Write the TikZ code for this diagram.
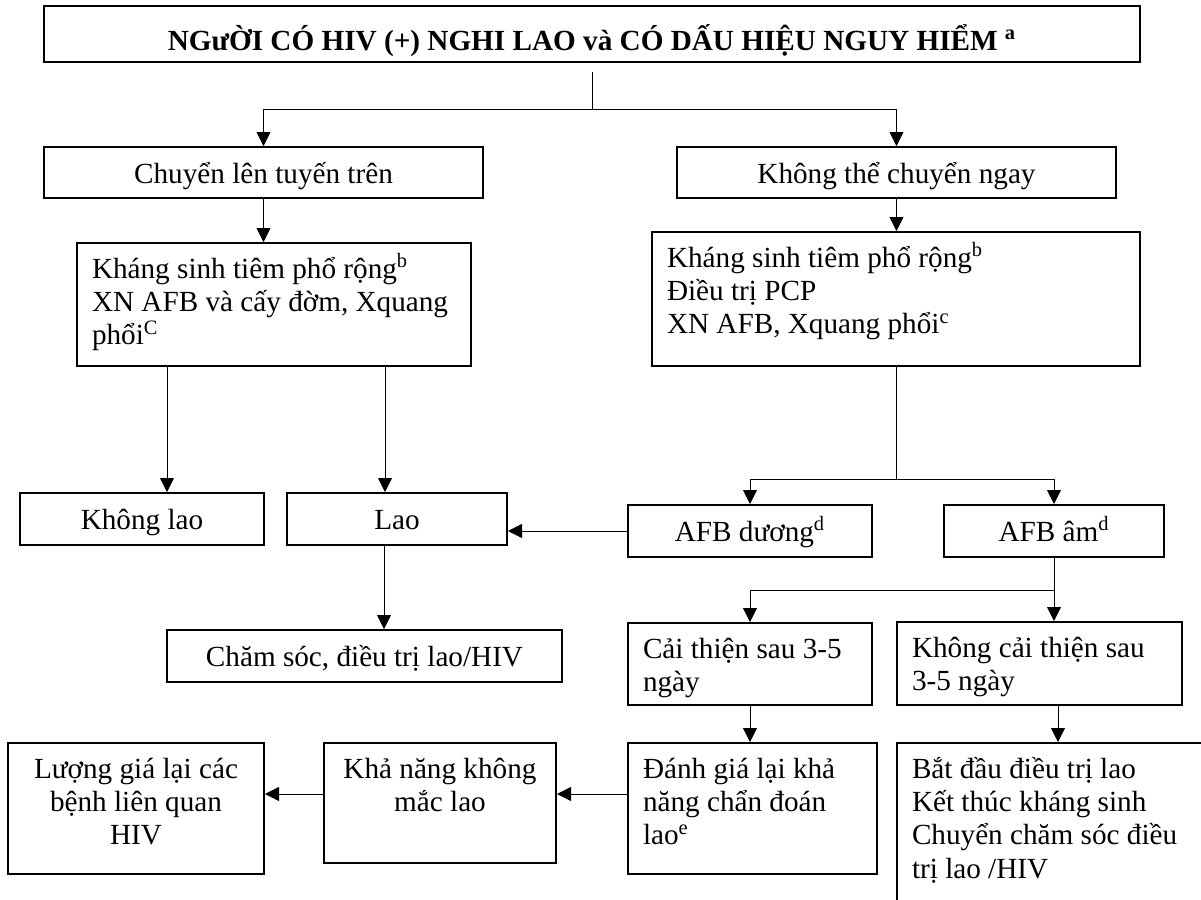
\documentclass[tikz,border=0pt]{standalone}
\usepackage{fontspec}
\setmainfont{Liberation Serif}
\usetikzlibrary{positioning,arrows.meta}
\tikzset{
    x=0.5pt,
    y=-0.5pt,
    line width=1pt,
    >={Triangle[length=7pt,width=7pt]},
    block/.style = {
        draw,
        shape=rectangle,
        line width=1pt,
        inner xsep=0pt,
        inner ysep=0pt,
        font=\fontsize{14.6}{16.7}\selectfont
    },
    single/.style = {
        block,
        text height=18pt,
        text depth=8pt
    },
    multi/.style = {
        block,
        inner xsep=7.5pt,
        text height=17.5pt
    },
    heading/.style = {
        block,
        text height=22pt,
        text depth=6pt,
        font=\fontsize{14.6}{17}\selectfont\bfseries
    },
}

\begin{document}
\begin{tikzpicture}
                \useasboundingbox (0,0) rectangle (1201,900);
                \clip (0,0) rectangle (1201,900);

                \node[heading, minimum width=548pt] (title) at (592,34) {NGưỜI CÓ HIV (+) NGHI LAO và CÓ DẤU HIỆU NGUY HIỂM \textsuperscript{a}};
                \node[single, minimum width=219.5pt, text depth=7.5pt] (chuyen) at (263.5,172.5) {Chuyển lên tuyến trên};
                \node[single, minimum width=219.5pt, text depth=7.5pt] (khongthe) at (896.5,172.5) {Không thể chuyển ngay};
                \node[multi, text depth=44pt] (khangL) at (274,304.5) {\parbox[t]{182pt}{Kháng sinh tiêm phổ rộng\textsuperscript{b}\\XN AFB và cấy đờm, Xquang\\phổi\textsuperscript{C}}};
                \node[multi, text depth=49.5pt] (khangR) at (896,299) {\parbox[t]{229pt}{Kháng sinh tiêm phổ rộng\textsuperscript{b}\\Điều trị PCP\\XN AFB, Xquang phổi\textsuperscript{c}}};
                \node[single, minimum width=122pt] (khonglao) at (142,519) {Không lao};
                \node[single, minimum width=110pt] (lao) at (397,519) {Lao};
                \node[single, minimum width=122pt] (afbduong) at (750,531) {AFB dương\textsuperscript{d}};
                \node[single, minimum width=110pt] (afbam) at (1054,531) {AFB âm\textsuperscript{d}};
                \node[single, minimum width=197.5pt] (chamsoc) at (364.5,656) {Chăm sóc, điều trị lao/HIV};
                \node[multi, text depth=23.5pt] (caithien) at (750,664) {\parbox[t]{107pt}{Cải thiện sau 3-5\\ngày}};
                \node[multi, text depth=24pt] (khongcaithien) at (1039.5,663.5) {\parbox[t]{127.5pt}{Không cải thiện sau\\3-5 ngày}};
                \node[multi, text depth=48pt] (danhgia) at (752.5,808.5) {\parbox[t]{109.5pt}{Đánh giá lại khả\\năng chẩn đoán\\lao\textsuperscript{e}}};
                \node[multi, text depth=72.5pt] (batdau) at (1062,833) {\parbox[t]{150pt}{Bắt đầu điều trị lao\\Kết thúc kháng sinh\\Chuyển chăm sóc điều\\trị lao /HIV}};
                \node[multi, text depth=42.5pt] (khanang) at (440,803) {\parbox[t]{101pt}{\centering Khả năng không\\mắc lao}};
                \node[multi, text depth=48pt] (luonggia) at (136,808.5) {\parbox[t]{113pt}{\centering Lượng giá lại các\\bệnh liên quan\\HIV}};

                \coordinate (titlestub) at (592,72);
                \coordinate (split1) at (592,109);
                \coordinate (khangLa) at (167,366);
                \coordinate (khangLb) at (385,366);
                \coordinate (split2) at (896,479);
                \coordinate (laoa) at (384,545);
                \coordinate (split3) at (1054,590);
                \coordinate (kcta) at (1058,705);
                \coordinate (row) at (0,794);

                \path[draw] (titlestub) -- (split1);
                \path[draw, ->] (split1) -| (chuyen);
                \path[draw, ->] (split1) -| (khongthe);
                \path[draw, ->] (chuyen) -- (chuyen |- khangL.north);
                \path[draw, ->] (khongthe) -- (khongthe |- khangR.north);
                \path[draw, ->] (khangLa) -- (khangLa |- khonglao.north);
                \path[draw, ->] (khangLb) -- (khangLb |- lao.north);
                \path[draw] (khangR.south) -- (split2);
                \path[draw, ->] (split2) -| (afbduong);
                \path[draw, ->] (split2) -| (afbam);
                \path[draw, ->] (afbduong) -- (afbduong -| lao.east);
                \path[draw, ->] (laoa) -- (laoa |- chamsoc.north);
                \path[draw] (afbam) -- (split3);
                \path[draw, ->] (split3) -| (caithien);
                \path[draw, ->] (split3) -- (split3 |- khongcaithien.north);
                \path[draw, ->] (caithien) -- (caithien |- danhgia.north);
                \path[draw, ->] (kcta) -- (kcta |- batdau.north);
                \path[draw, ->] (danhgia.west |- row) -- (khanang.east |- row);
                \path[draw, ->] (khanang.west |- row) -- (luonggia.east |- row);
            \end{tikzpicture}
\end{document}
